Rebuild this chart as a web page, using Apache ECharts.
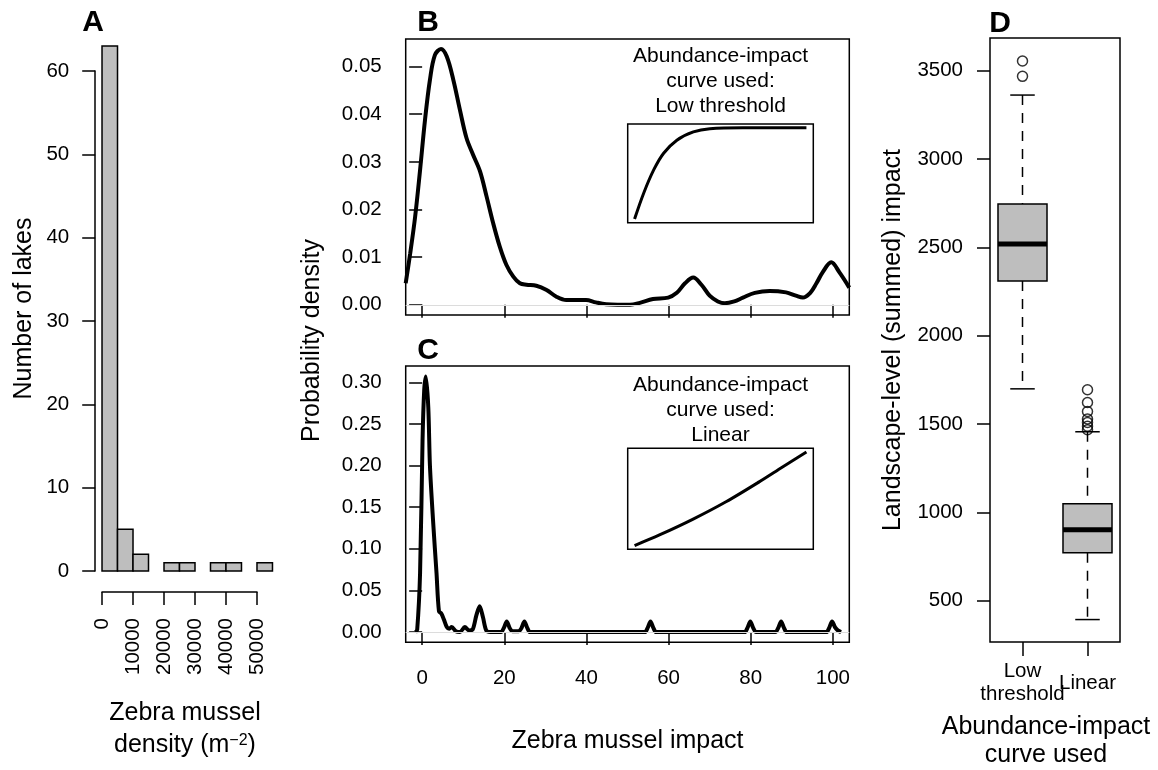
<!DOCTYPE html>
<html>
<head>
<meta charset="utf-8">
<title>Zebra mussel density and impact</title>
<script src="https://cdn.jsdelivr.net/npm/echarts@6.0.0/dist/echarts.min.js"></script>
<style>
  html, body { margin: 0; padding: 0; background: #fff; }
  #chart { width: 1158px; height: 770px; }
</style>
</head>
<body>
<div id="chart"></div>
<script>
// A: histogram of zebra mussel density
const densityBreaks = [0, 5000, 10000, 15000, 20000, 25000, 30000, 35000, 40000, 45000, 50000, 55000]
const lakeCounts = [63, 5, 2, 0, 1, 1, 0, 1, 1, 0, 1]

// B: density of impact, low threshold curve
const lowImpactX = [-4, -2.9, -1.7, -0.5, 0.7, 1.9, 3.1, 4.6, 6.0, 7.6, 9.2, 10.8, 12.4, 14.1, 15.7, 17.3, 18.9, 20.5, 22.2, 23.8,
  25.4, 27.8, 30.3, 32.7, 35.1, 37.5, 39.9, 42.3, 44.8, 47.6, 50.6, 53, 56.2, 59.9, 62, 64, 66, 68, 70, 72,
  73.7, 76, 78.1, 81, 84.6, 88.6, 91, 92.7, 94.5, 96, 97.5, 99.6, 101.6, 104]
const lowImpactY = [0.0045, 0.0108, 0.0185, 0.0283, 0.0388, 0.0472, 0.0524, 0.0537, 0.0521, 0.0472, 0.0409, 0.035, 0.0315, 0.028, 0.0227, 0.0171, 0.0122, 0.0084, 0.0059, 0.0045,
  0.0042, 0.004, 0.0031, 0.0017, 0.001, 0.001, 0.001, 0.0005, 0.0001, 0, 0, 0.0004, 0.0012, 0.0015, 0.0025, 0.0045, 0.0057, 0.0042, 0.0019, 0.0007,
  0.0003, 0.0007, 0.0015, 0.0025, 0.0029, 0.0026, 0.0019, 0.0015, 0.0025, 0.0045, 0.0068, 0.0089, 0.0068, 0.0036]

// C: density of impact, linear curve
const linImpactX = [-1.6, -1.2, -0.5, 0.1, 0.5, 0.9, 1.5, 1.9, 2.7, 3.5, 4.1, 4.7, 5.3, 6.0, 6.6, 7.2, 8.2, 9.2, 10.4, 11.4,
  12.3, 13.2, 14.0, 14.8, 15.6, 16.6, 19.2, 19.9, 20.6, 21.3, 22.0, 23.5, 24.2, 24.9, 25.6, 26.3,
  54.2, 54.9, 55.6, 56.3, 57.0, 78.5, 79.2, 79.9, 80.6, 81.3, 86.0, 86.7, 87.4, 88.1, 88.8,
  98.4, 99.1, 99.8, 100.5, 101.2, 102]
const linImpactY = [0, 0.003, 0.071, 0.23, 0.29, 0.307, 0.27, 0.2, 0.131, 0.071, 0.025, 0.022, 0.015, 0.006, 0.004, 0.006, 0.001, 0, 0.006, 0.002,
  0.003, 0.02, 0.031, 0.018, 0.002, 0, 0, 0.005, 0.0128, 0.005, 0.001, 0.001, 0.005, 0.0128, 0.005, 0,
  0, 0.005, 0.0128, 0.005, 0, 0, 0.005, 0.0128, 0.005, 0, 0, 0.005, 0.0128, 0.005, 0,
  0, 0.005, 0.0128, 0.006, 0.002, 0]

const impactTicks = [0, 20, 40, 60, 80, 100]
const lowDensityTicks = [0, 0.01, 0.02, 0.03, 0.04, 0.05]
const linDensityTicks = [0, 0.05, 0.10, 0.15, 0.20, 0.25, 0.30]

// insets: shape of abundance-impact curves (scaled 0..1)
const thresholdCurveX = [0, 0.054, 0.112, 0.169, 0.246, 0.342, 0.438, 0.63, 1]
const thresholdCurveY = [0, 0.288, 0.54, 0.72, 0.863, 0.953, 0.989, 1, 1]
const linearCurveX = [0, 0.145, 0.338, 0.532, 0.725, 0.861, 1]
const linearCurveY = [0, 0.113, 0.28, 0.468, 0.681, 0.84, 1]

// D: landscape-level summed impact
const curveTypes = ['Low\nthreshold', 'Linear']
const whiskerLow = [1699, 393]
const quartile1 = [2310, 771]
const medians = [2519, 902]
const quartile3 = [2745, 1049]
const whiskerHigh = [3362, 1456]
const outlierGroup = [0, 0, 1, 1, 1, 1, 1, 1, 1]
const outlierValues = [3555, 3468, 1694, 1622, 1571, 1528, 1509, 1487, 1468]
const summedTicks = [500, 1000, 1500, 2000, 2500, 3000, 3500]

const FONT = '"Liberation Sans", Arial, Helvetica, sans-serif'
const INK = '#000'
const zip = (xs, ys) => xs.map((x, i) => [x, ys[i]])
const tickText = { color: INK, fontSize: 20.5, fontFamily: FONT }
const inkLine = { color: INK, width: 1.5 }
const ticks = (extra = {}) => ({ show: true, inside: false, length: 13, lineStyle: inkLine, ...extra })

// panel A plot region (R adds 4% either side)
const A = { left: 95.2, top: 25, width: 184.1, height: 567, xMin: -2200, xMax: 57200, yMin: -2.52, yMax: 65.52 }
const ax = v => A.left + (v - A.xMin) / (A.xMax - A.xMin) * A.width
const ay = v => A.top + (A.yMax - v) / (A.yMax - A.yMin) * A.height

const frame = { show: true, borderColor: INK, borderWidth: 1.5, backgroundColor: 'rgba(0,0,0,0)' }
const grids = [
  { left: A.left, top: A.top, width: A.width, height: A.height },
  { left: A.left, top: ay(60), width: 20, height: ay(0) - ay(60) },
  { left: ax(0), top: A.top + A.height - 60, width: ax(50000) - ax(0), height: 60 },
  { left: 405.7, top: 39, width: 443.6, height: 276, ...frame },
  { left: 627.7, top: 124, width: 185.6, height: 98.7, ...frame },
  { left: 405.7, top: 366, width: 443.6, height: 276.3, ...frame },
  { left: 627.7, top: 448.3, width: 185.6, height: 101, ...frame },
  { left: 990, top: 38, width: 130, height: 604, ...frame }
].map(g => ({ containLabel: false, outerBoundsMode: 'none', ...g }))

const hidden = (gridIndex, min, max) => ({ gridIndex, type: 'value', min, max, show: false })

const xAxes = [
  hidden(0, A.xMin, A.xMax),
  hidden(1, 0, 1),
  {
    gridIndex: 2, type: 'value', min: 0, max: 50000, interval: 10000,
    axisLine: { show: true, lineStyle: inkLine }, axisTick: ticks(), splitLine: { show: false },
    axisLabel: { ...tickText, rotate: 90, margin: 26, formatter: v => String(v) }
  },
  {
    gridIndex: 3, type: 'value', min: -4, max: 104,
    axisLine: { show: false }, splitLine: { show: false },
    axisTick: ticks({ customValues: impactTicks }), axisLabel: { show: false }
  },
  hidden(4, -0.04, 1.04),
  {
    gridIndex: 5, type: 'value', min: -4, max: 104,
    axisLine: { show: false }, splitLine: { show: false },
    axisTick: ticks({ customValues: impactTicks }),
    axisLabel: { ...tickText, margin: 26, customValues: impactTicks }
  },
  hidden(6, -0.04, 1.04),
  {
    gridIndex: 7, type: 'category', data: curveTypes,
    axisLine: { show: false }, splitLine: { show: false },
    axisTick: ticks({ alignWithLabel: true, length: 14 }),
    axisLabel: { ...tickText, margin: 41, verticalAlign: 'middle', lineHeight: 23, interval: 0 }
  }
]

const yAxes = [
  hidden(0, A.yMin, A.yMax),
  {
    gridIndex: 1, type: 'value', min: 0, max: 60, interval: 10,
    axisLine: { show: true, lineStyle: inkLine }, axisTick: ticks(), splitLine: { show: false },
    axisLabel: { ...tickText, margin: 26 }
  },
  hidden(2, 0, 1),
  {
    gridIndex: 3, type: 'value', min: -0.00215, max: 0.05579,
    axisLine: { show: false }, splitLine: { show: false },
    axisTick: ticks({ customValues: lowDensityTicks }),
    axisLabel: { ...tickText, margin: 24, customValues: lowDensityTicks, formatter: v => v.toFixed(2) }
  },
  hidden(4, -0.04, 1.04),
  {
    gridIndex: 5, type: 'value', min: -0.0123, max: 0.3197,
    axisLine: { show: false }, splitLine: { show: false },
    axisTick: ticks({ customValues: linDensityTicks }),
    axisLabel: { ...tickText, margin: 24, customValues: linDensityTicks, formatter: v => v.toFixed(2) }
  },
  hidden(6, -0.04, 1.04),
  {
    gridIndex: 7, type: 'value', min: 266, max: 3685,
    axisLine: { show: false }, splitLine: { show: false },
    axisTick: ticks({ customValues: summedTicks }),
    axisLabel: { ...tickText, margin: 27, customValues: summedTicks, formatter: v => String(v) }
  }
]

const zeroLine = {
  silent: true, symbol: 'none', label: { show: false },
  lineStyle: { color: '#dcdcdc', width: 1, type: 'solid' },
  data: [{ yAxis: 0 }]
}

const densityLine = (idx, xs, ys, width, smooth) => ({
  type: 'line', xAxisIndex: idx, yAxisIndex: idx, data: zip(xs, ys),
  showSymbol: false, smooth, silent: true,
  lineStyle: { color: INK, width }
})

const histBars = densityBreaks.slice(0, -1).map((b, i) => [b, densityBreaks[i + 1], lakeCounts[i]])
const boxes = curveTypes.map((_, i) => [i, whiskerLow[i], quartile1[i], medians[i], quartile3[i], whiskerHigh[i]])

const series = [
  {
    type: 'custom', xAxisIndex: 0, yAxisIndex: 0, data: histBars, silent: true,
    encode: { x: [0, 1], y: 2 },
    renderItem: (params, api) => {
      const n = api.value(2)
      if (!n) return { type: 'group', children: [] }
      const a = api.coord([api.value(0), n])
      const b = api.coord([api.value(1), 0])
      return {
        type: 'rect',
        shape: { x: a[0], y: a[1], width: b[0] - a[0], height: b[1] - a[1] },
        style: { fill: '#bebebe', stroke: INK, lineWidth: 1.5 }
      }
    }
  },
  { ...densityLine(3, lowImpactX, lowImpactY, 4, 0.35), markLine: zeroLine },
  densityLine(4, thresholdCurveX, thresholdCurveY, 3, 0.35),
  { ...densityLine(5, linImpactX, linImpactY, 4, 0.3), markLine: zeroLine },
  densityLine(6, linearCurveX, linearCurveY, 3, 0.3),
  {
    type: 'custom', xAxisIndex: 7, yAxisIndex: 7, data: boxes, silent: true,
    encode: { x: 0, y: [1, 2, 3, 4, 5] },
    renderItem: (params, api) => {
      const i = api.value(0)
      const half = api.size([1, 0])[0] * 0.377
      const cap = half / 2
      const [cx, yLo] = api.coord([i, api.value(1)])
      const yQ1 = api.coord([i, api.value(2)])[1]
      const yMed = api.coord([i, api.value(3)])[1]
      const yQ3 = api.coord([i, api.value(4)])[1]
      const yHi = api.coord([i, api.value(5)])[1]
      const ink = { stroke: INK, lineWidth: 1.5 }
      return {
        type: 'group',
        children: [
          { type: 'line', shape: { x1: cx, y1: yHi, x2: cx, y2: yQ3 }, style: { ...ink, lineDash: [10, 8] } },
          { type: 'line', shape: { x1: cx, y1: yQ1, x2: cx, y2: yLo }, style: { ...ink, lineDash: [10, 8] } },
          { type: 'line', shape: { x1: cx - cap, y1: yHi, x2: cx + cap, y2: yHi }, style: ink },
          { type: 'line', shape: { x1: cx - cap, y1: yLo, x2: cx + cap, y2: yLo }, style: ink },
          { type: 'rect', shape: { x: cx - half, y: yQ3, width: 2 * half, height: yQ1 - yQ3 }, style: { fill: '#bebebe', ...ink } },
          { type: 'line', shape: { x1: cx - half, y1: yMed, x2: cx + half, y2: yMed }, style: { stroke: INK, lineWidth: 5 } }
        ]
      }
    }
  },
  {
    type: 'scatter', xAxisIndex: 7, yAxisIndex: 7, silent: true,
    data: zip(outlierGroup, outlierValues),
    symbol: 'circle', symbolSize: 10,
    itemStyle: { color: 'rgba(0,0,0,0)', borderColor: INK, borderWidth: 1.5 }
  }
]

const text = (str, x, y, opts = {}) => ({
  type: 'text', x, y, rotation: opts.rotation || 0, silent: true,
  style: {
    text: str, fill: INK,
    fontSize: opts.size || 25, fontWeight: opts.weight || 'normal', fontFamily: FONT,
    lineHeight: opts.lineHeight, rich: opts.rich,
    align: 'center', verticalAlign: 'middle', textAlign: 'center', textVerticalAlign: 'middle'
  }
})

const graphics = [
  text('A', 93, 23, { size: 30, weight: 'bold' }),
  text('B', 428, 23, { size: 30, weight: 'bold' }),
  text('C', 428, 351, { size: 30, weight: 'bold' }),
  text('D', 1000, 24, { size: 30, weight: 'bold' }),
  text('Number of lakes', 24, 308.5, { rotation: Math.PI / 2 }),
  text('Zebra mussel', 185, 713),
  text('{t|density (m}{s|−2}{t|)}', 185, 745, {
    rich: { t: { fontSize: 25, fontFamily: FONT }, s: { fontSize: 16, fontFamily: FONT, verticalAlign: 'top' } }
  }),
  text('Probability density', 312, 340.5, { rotation: Math.PI / 2 }),
  text('Zebra mussel impact', 627.5, 741),
  text('Abundance-impact\ncurve used:\nLow threshold', 720.5, 81, { size: 21, lineHeight: 25 }),
  text('Abundance-impact\ncurve used:\nLinear', 720.5, 410, { size: 21, lineHeight: 25 }),
  text('Landscape-level (summed) impact', 893, 340, { rotation: Math.PI / 2 }),
  text('Abundance-impact\ncurve used', 1046, 741, { lineHeight: 28 })
]

const chart = echarts.init(document.getElementById('chart'), null, { renderer: 'canvas' })
chart.setOption({
  animation: false,
  backgroundColor: '#fff',
  textStyle: { fontFamily: FONT, color: INK },
  grid: grids,
  xAxis: xAxes,
  yAxis: yAxes,
  series,
  graphic: graphics
})
window.addEventListener('resize', () => chart.resize())
</script>
</body>
</html>
